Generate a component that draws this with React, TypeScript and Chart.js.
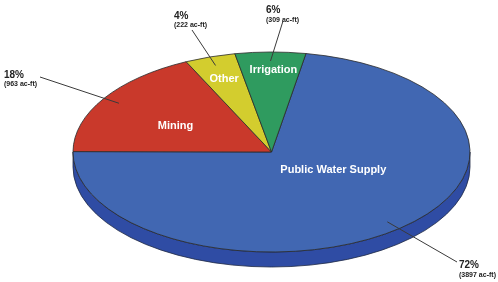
import React, { useEffect, useRef } from "react";
import { Chart, registerables } from "chart.js";

Chart.register(...registerables);

const CATEGORIES = ["Public Water Supply", "Mining", "Other", "Irrigation"];
const ACRE_FEET = [3897, 963, 222, 309];

const TOP_COLORS = ["#4167b2", "#c9392b", "#d3cd2e", "#2f9b5f"];
const SIDE_COLORS = ["#2f4ca4", "#9a2a20", "#a8a323", "#227448"];

// layout of the 3D ellipse
const ASPECT = 1.985; // rx / ry
const DEPTH = 15;

// inside label placement: fraction of radius, angle offset (deg) from slice mid-angle
const INSIDE_R = [0.36, 0.55, 0.77, 0.82];
const INSIDE_DA = [-20, -4, 0, 1];
// callouts: leader start on slice (fraction of radius along mid-angle) and text block anchor
const CALLOUT_R = 0.91;
const CALLOUT_END = [
  [457, 262],
  [40, 77],
  [192, 30],
  [283, 21],
];
const CALLOUT_TEXT = [
  [459, 268, 277],
  [4, 77.5, 86],
  [174, 19, 27],
  [266, 13, 21.5],
];

const FONT = '"Liberation Sans", Arial, sans-serif';

const pie3d = {
  id: "pie3d",
  beforeDatasetsDraw(chart: any) {
    const ctx = chart.ctx as CanvasRenderingContext2D;
    const arcs = chart.getDatasetMeta(0).data as any[];
    if (!arcs.length) return false;
    const cx = arcs[0].x;
    const cy = arcs[0].y;
    const ry = arcs[0].outerRadius;
    const rx = ry * ASPECT;
    ctx.save();
    ctx.lineJoin = "round";
    // side walls
    arcs.forEach((arc, i) => {
      for (const k of [-1, 0, 1]) {
        const lo = Math.max(arc.startAngle, 2 * Math.PI * k);
        const hi = Math.min(arc.endAngle, 2 * Math.PI * k + Math.PI);
        if (hi <= lo) continue;
        ctx.beginPath();
        ctx.ellipse(cx, cy, rx, ry, 0, lo, hi, false);
        ctx.ellipse(cx, cy + DEPTH, rx, ry, 0, hi, lo, true);
        ctx.closePath();
        ctx.fillStyle = SIDE_COLORS[i];
        ctx.fill();
        ctx.strokeStyle = "#1f2a44";
        ctx.lineWidth = 0.8;
        ctx.stroke();
      }
    });
    // top face
    arcs.forEach((arc, i) => {
      ctx.beginPath();
      ctx.moveTo(cx, cy);
      ctx.ellipse(cx, cy, rx, ry, 0, arc.startAngle, arc.endAngle, false);
      ctx.closePath();
      ctx.fillStyle = TOP_COLORS[i];
      ctx.fill();
      ctx.strokeStyle = "#2a2a2a";
      ctx.lineWidth = 0.8;
      ctx.stroke();
    });
    ctx.restore();
    return false;
  },
  afterDraw(chart: any) {
    const ctx = chart.ctx as CanvasRenderingContext2D;
    const arcs = chart.getDatasetMeta(0).data as any[];
    if (!arcs.length) return;
    const cx = arcs[0].x;
    const cy = arcs[0].y;
    const ry = arcs[0].outerRadius;
    const rx = ry * ASPECT;
    const total = ACRE_FEET.reduce((a, b) => a + b, 0);
    ctx.save();
    arcs.forEach((arc, i) => {
      const mid = (arc.startAngle + arc.endAngle) / 2;
      // inside label
      const a = mid + (INSIDE_DA[i] * Math.PI) / 180;
      const lx = cx + rx * INSIDE_R[i] * Math.cos(a);
      const ly = cy + ry * INSIDE_R[i] * Math.sin(a);
      ctx.font = `bold 11px ${FONT}`;
      ctx.fillStyle = "#ffffff";
      ctx.textAlign = "center";
      ctx.textBaseline = "middle";
      ctx.fillText(CATEGORIES[i], lx, ly);
      // leader line
      const sx = cx + rx * CALLOUT_R * Math.cos(mid);
      const sy = cy + ry * CALLOUT_R * Math.sin(mid);
      ctx.beginPath();
      ctx.moveTo(sx, sy);
      ctx.lineTo(CALLOUT_END[i][0], CALLOUT_END[i][1]);
      ctx.strokeStyle = "#3a3a3a";
      ctx.lineWidth = 1;
      ctx.stroke();
      // callout text
      const [tx, py, sy2] = CALLOUT_TEXT[i];
      ctx.fillStyle = "#222222";
      ctx.textAlign = "left";
      ctx.textBaseline = "alphabetic";
      ctx.font = `bold 10px ${FONT}`;
      ctx.fillText(`${Math.round((ACRE_FEET[i] / total) * 100)}%`, tx, py);
      ctx.font = `bold 7px ${FONT}`;
      ctx.fillText(`(${ACRE_FEET[i]} ac-ft)`, tx, sy2);
    });
    ctx.restore();
  },
};

export default function App() {
  const ref = useRef<HTMLCanvasElement | null>(null);
  useEffect(() => {
    if (!ref.current) return;
    const chart = new Chart(ref.current, {
      type: "pie",
      data: {
        labels: CATEGORIES,
        datasets: [
          {
            data: ACRE_FEET,
            backgroundColor: TOP_COLORS,
            borderWidth: 0,
          },
        ],
      },
      options: {
        responsive: false,
        animation: false,
        rotation: 10,
        layout: { padding: { left: 100, right: 55, top: 52, bottom: 30 } },
        plugins: {
          legend: { display: false },
          tooltip: { enabled: false },
        },
      },
      plugins: [pie3d],
    });
    return () => chart.destroy();
  }, []);
  return (
    <div style={{ position: "fixed", left: 0, top: 0, width: 498, height: 282, background: "#fff" }}>
      <canvas ref={ref} width={498} height={282} style={{ display: "block" }} />
    </div>
  );
}
